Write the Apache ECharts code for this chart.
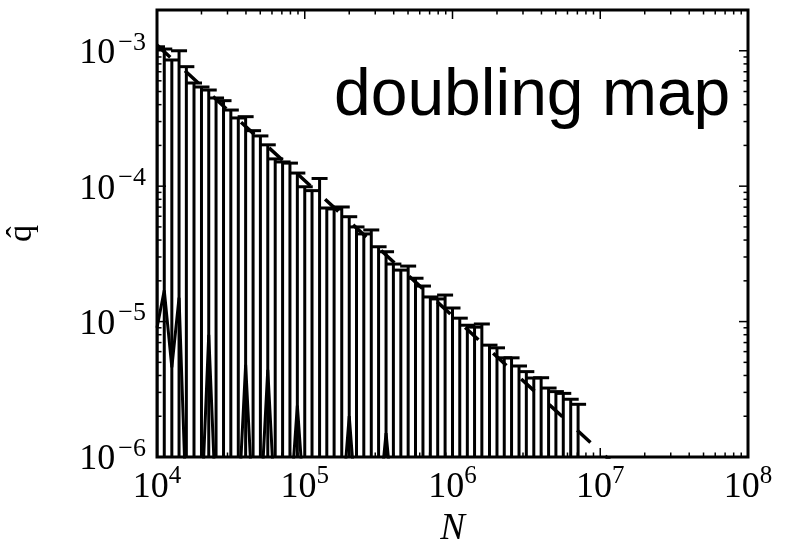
<!DOCTYPE html>
<html>
<head>
<meta charset="utf-8">
<script src="https://cdn.jsdelivr.net/npm/echarts@6/dist/echarts.min.js"></script>
<style>
  html, body { margin: 0; padding: 0; background: #fff; }
  #chart { width: 790px; height: 546px; }
</style>
</head>
<body>
<div id="chart"></div>
<script>
// sample sizes N, 20 per decade from 1e4
const sizes = [
  1.00e4, 1.12e4, 1.26e4, 1.41e4, 1.58e4, 1.78e4, 2.00e4, 2.24e4, 2.51e4, 2.82e4,
  3.16e4, 3.55e4, 3.98e4, 4.47e4, 5.01e4, 5.62e4, 6.31e4, 7.08e4, 7.94e4, 8.91e4,
  1.00e5, 1.12e5, 1.26e5, 1.41e5, 1.58e5, 1.78e5, 2.00e5, 2.24e5, 2.51e5, 2.82e5,
  3.16e5, 3.55e5, 3.98e5, 4.47e5, 5.01e5, 5.62e5, 6.31e5, 7.08e5, 7.94e5, 8.91e5,
  1.00e6, 1.12e6, 1.26e6, 1.41e6, 1.58e6, 1.78e6, 2.00e6, 2.24e6, 2.51e6, 2.82e6,
  3.16e6, 3.55e6, 3.98e6, 4.47e6, 5.01e6, 5.62e6, 6.31e6, 7.08e6
];
// top of each error bar (lower ends fall below the axis)
const upper = [
  1.07e-3, 1.03e-3, 8.55e-4, 1.00e-3, 7.63e-4, 5.78e-4, 5.40e-4, 5.13e-4, 4.48e-4, 4.28e-4,
  3.65e-4, 3.19e-4, 3.26e-4, 2.57e-4, 2.35e-4, 2.02e-4, 1.59e-4, 1.51e-4, 1.48e-4, 1.25e-4,
  9.9e-5, 9.27e-5, 1.14e-4, 6.90e-5, 6.79e-5, 7.02e-5, 5.95e-5, 5.00e-5, 4.44e-5, 4.75e-5,
  3.57e-5, 3.28e-5, 2.66e-5, 2.40e-5, 2.57e-5, 2.09e-5, 1.83e-5, 1.52e-5, 1.47e-5, 1.57e-5,
  1.26e-5, 1.06e-5, 9.4e-6, 9.1e-6, 9.6e-6, 6.7e-6, 6.4e-6, 5.4e-6, 5.4e-6, 4.7e-6,
  4.27e-6, 3.83e-6, 3.85e-6, 3.23e-6, 3.04e-6, 2.95e-6, 2.67e-6, 2.45e-6
];
// q-hat estimate; points shown at the floor sit below the plotted range
const qhat = [
  9.0e-6, 1.7e-5, 4.6e-6, 1.5e-5, 4e-7, 4e-7, 4e-7, 8.0e-6, 4e-7, 4e-7,
  4e-7, 4e-7, 4.8e-6, 4e-7, 4e-7, 4.4e-6, 4e-7, 4e-7, 4e-7, 2.4e-6,
  4e-7, 4e-7, 4e-7, 4e-7, 4e-7, 4e-7, 2.0e-6, 4e-7, 4e-7, 4e-7,
  4e-7, 1.5e-6, 4e-7, 4e-7, 4e-7, 4e-7, 4e-7, 4e-7, 4e-7, 4e-7,
  4e-7, 4e-7, 4e-7, 4e-7, 4e-7, 4e-7, 4e-7, 4e-7, 4e-7, 4e-7,
  4e-7, 4e-7, 4e-7, 4e-7, 4e-7, 4e-7, 4e-7, 4e-7
];
// dashed reference line, end points
const refN = [1e4, 1e8];
const refQ = [1.1e-3, 1.1e-7];

const xRange = [1e4, 1e8];
const yRange = [1e-6, 2e-3];
const xDecades = [1e4, 1e5, 1e6, 1e7, 1e8];
const yDecades = [1e-6, 1e-5, 1e-4, 1e-3];

// tick positions (major + minor 2..9)
const xTicks = [], yTicks = [];
xDecades.forEach(d => {
  xTicks.push([d, yRange[0], 9]);
  if (d < xRange[1]) for (let m = 2; m <= 9; m++) xTicks.push([d * m, yRange[0], 4.5]);
});
yDecades.forEach(d => {
  yTicks.push([xRange[0], d, 9]);
  for (let m = 2; m <= 9; m++) if (d * m < yRange[1]) yTicks.push([xRange[0], d * m, 4.5]);
});

function powLabel(v) {
  const lg = Math.log10(v);
  const e = Math.round(lg);
  if (Math.abs(lg - e) > 1e-6) return '';
  return '{b|10}{s|' + (e < 0 ? '\u2212' + (-e) : e) + '}';
}
const xRich = {
  b: { fontSize: 36, fontFamily: 'Liberation Serif', color: '#000', lineHeight: 42, verticalAlign: 'bottom' },
  s: { fontSize: 25, fontFamily: 'Liberation Serif', color: '#000', lineHeight: 24, verticalAlign: 'top' }
};
const yRich = {
  b: { fontSize: 36, fontFamily: 'Liberation Serif', color: '#000', lineHeight: 42, verticalAlign: 'bottom' },
  s: { fontSize: 26, fontFamily: 'Liberation Serif', color: '#000', lineHeight: 24, verticalAlign: 'top', padding: [0, 0, 0, 3] }
};

const chart = echarts.init(document.getElementById('chart'));
chart.setOption({
  backgroundColor: '#fff',
  animation: false,
  title: {
    text: 'doubling map',
    left: 329, top: 59,
    textStyle: { fontSize: 66, fontWeight: 'normal', fontFamily: 'Liberation Sans', color: '#000' }
  },
  grid: {
    left: 157, right: 42, top: 10, bottom: 89,
    outerBoundsMode: 'none', containLabel: false,
    show: true, borderColor: '#000', borderWidth: 3, backgroundColor: 'transparent'
  },
  xAxis: {
    type: 'log', logBase: 10, min: xRange[0], max: xRange[1],
    name: 'N', nameLocation: 'middle', nameGap: 52,
    nameTextStyle: { fontSize: 37, fontStyle: 'italic', fontFamily: 'Liberation Serif', color: '#000' },
    axisLine: { show: false }, axisTick: { show: false }, splitLine: { show: false },
    axisLabel: { margin: 7, formatter: powLabel, rich: xRich }
  },
  yAxis: {
    type: 'log', logBase: 10, min: yRange[0], max: yRange[1],
    name: 'q\u0302', nameLocation: 'middle', nameGap: 118, nameRotate: 90,
    nameTextStyle: { fontSize: 34, fontFamily: 'Liberation Serif', color: '#000' },
    axisLine: { show: false }, axisTick: { show: false }, splitLine: { show: false },
    axisLabel: { margin: 11, formatter: powLabel, rich: yRich }
  },
  series: [
    {
      // error bars
      type: 'custom',
      clip: true,
      data: sizes.map((n, i) => [n, upper[i]]),
      renderItem: function (params, api) {
        const cs = params.coordSys;
        const top = api.coord([api.value(0), api.value(1)]);
        const bottom = cs.y + cs.height;
        const st = { stroke: '#000', lineWidth: 3, fill: null };
        return {
          type: 'group',
          children: [
            { type: 'line', shape: { x1: top[0], y1: bottom, x2: top[0], y2: top[1] }, style: st },
            { type: 'line', shape: { x1: top[0] - 8, y1: top[1], x2: top[0] + 8, y2: top[1] }, style: st }
          ]
        };
      },
      z: 2
    },
    {
      type: 'line',
      data: sizes.map((n, i) => [n, qhat[i]]),
      showSymbol: false,
      lineStyle: { color: '#000', width: 3 },
      z: 3
    },
    {
      type: 'line',
      data: refN.map((n, i) => [n, refQ[i]]),
      showSymbol: false,
      lineStyle: { color: '#000', width: 3.5, type: [18, 20] },
      z: 4
    },
    {
      // ticks on bottom and top
      type: 'custom',
      data: xTicks,
      renderItem: function (params, api) {
        const cs = params.coordSys;
        const px = api.coord([api.value(0), api.value(1)])[0];
        const len = api.value(2);
        const st = { stroke: '#000', lineWidth: 1.5 };
        return {
          type: 'group',
          children: [
            { type: 'line', shape: { x1: px, y1: cs.y + cs.height, x2: px, y2: cs.y + cs.height - len }, style: st },
            { type: 'line', shape: { x1: px, y1: cs.y, x2: px, y2: cs.y + len }, style: st }
          ]
        };
      },
      z: 5
    },
    {
      // ticks on left and right
      type: 'custom',
      data: yTicks,
      renderItem: function (params, api) {
        const cs = params.coordSys;
        const py = api.coord([api.value(0), api.value(1)])[1];
        const len = api.value(2);
        const st = { stroke: '#000', lineWidth: 1.5 };
        return {
          type: 'group',
          children: [
            { type: 'line', shape: { x1: cs.x, y1: py, x2: cs.x + len, y2: py }, style: st },
            { type: 'line', shape: { x1: cs.x + cs.width, y1: py, x2: cs.x + cs.width - len, y2: py }, style: st }
          ]
        };
      },
      z: 5
    }
  ]
});
window.addEventListener('resize', () => chart.resize());
</script>
</body>
</html>
